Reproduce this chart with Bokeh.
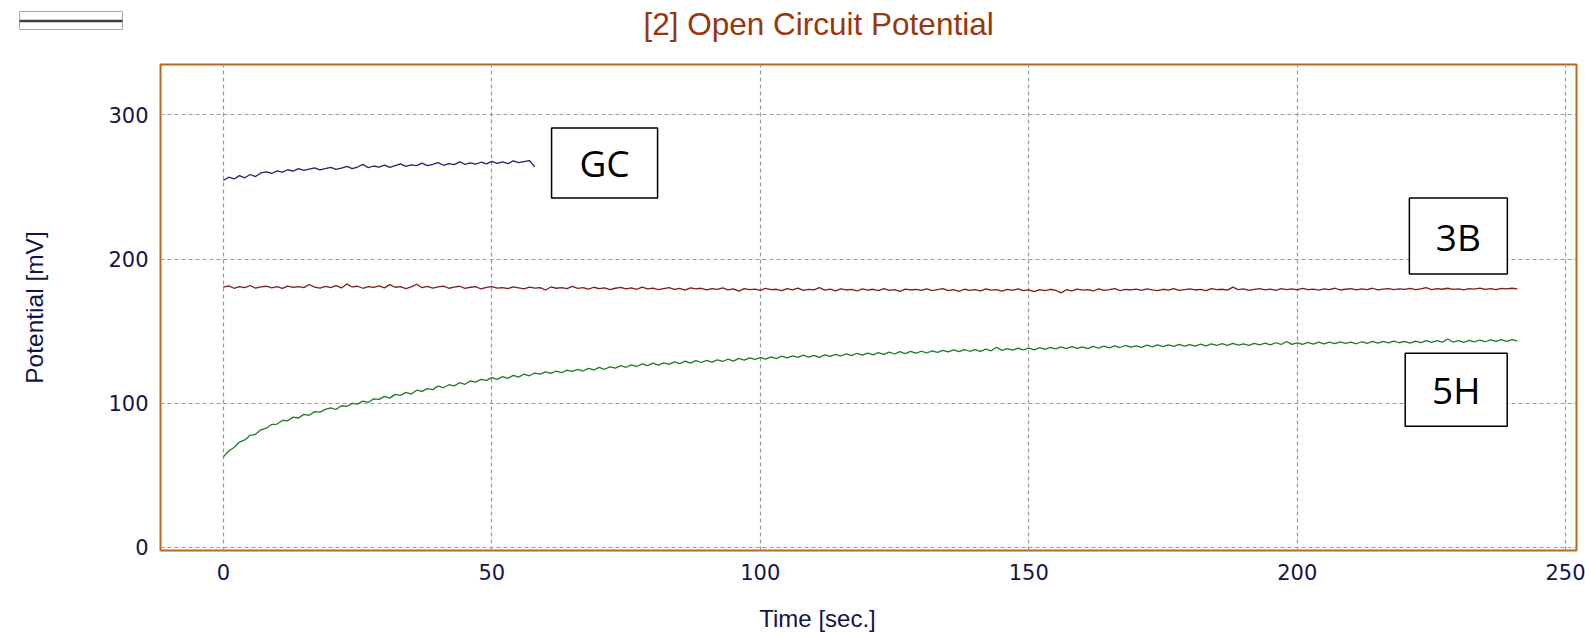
import numpy as np
from bokeh.plotting import figure
from bokeh.layouts import column
from bokeh.models import Range1d, FixedTicker
from bokeh.core.properties import value
from bokeh.embed import file_html
from bokeh.resources import INLINE

# ---------------- data ----------------
time_gc = list(range(0, 59))
gc_mv = [
    254.5, 256.8, 255.6, 257.9, 256.4, 258.7, 257.3, 259.8, 260.6, 259.4,
    261.2, 260.3, 262.0, 261.1, 262.8, 261.5, 262.4, 263.3, 261.9, 262.7,
    263.6, 262.2, 263.1, 264.4, 262.8, 263.9, 265.7, 263.4, 264.6, 263.8,
    265.2, 263.7, 264.9, 266.1, 264.3, 265.4, 264.8, 266.6, 264.9, 265.8,
    266.9, 265.1, 266.3, 265.6, 267.4, 265.8, 266.7, 265.9, 267.2, 266.1,
    267.8, 266.4, 267.5, 266.2, 268.1, 266.9, 267.7, 268.4, 264.0,
]

time_long = list(range(0, 242))
b3_mv = [
    180.6, 181.4, 179.8, 180.9, 180.2, 181.7, 179.9, 180.8, 181.2, 180.1,
    180.9, 179.7, 181.3, 180.4, 181.0, 180.2, 182.4, 180.6, 179.9, 181.1,
    180.3, 181.6, 180.0, 182.8, 180.7, 181.2, 179.8, 180.9, 180.4, 181.5,
    180.1, 182.3, 180.5, 181.0, 179.6, 180.8, 182.6, 180.2, 181.1, 179.9,
    180.7, 181.3, 179.8, 180.6, 181.2, 179.7, 180.5, 180.9, 179.3, 180.4,
    181.0, 179.9, 180.3, 179.6, 180.8, 180.1, 179.4, 180.6, 179.9, 180.2,
    178.6, 180.7, 179.8, 180.3, 179.5, 181.1, 179.7, 180.2, 179.2, 180.5,
    179.6, 180.1, 178.9, 179.8, 180.4, 179.3, 180.0, 179.1, 180.6, 179.4,
    179.9, 178.8, 179.6, 180.2, 179.0, 179.7, 178.5, 180.1, 179.3, 179.8,
    178.7, 179.5, 179.0, 180.0, 178.6, 179.4, 177.8, 179.6, 178.9, 179.2,
    178.4, 179.7, 178.8, 179.1, 178.2, 179.5, 178.6, 179.9, 178.3, 179.0,
    178.7, 180.3, 178.5, 179.2, 178.0, 179.4, 178.6, 179.0, 177.9, 179.3,
    178.5, 179.1, 178.2, 179.6, 178.4, 178.9, 177.7, 179.2, 178.6, 179.0,
    178.3, 179.4, 178.1, 178.8, 179.5, 178.2, 178.9, 177.6, 179.1, 178.4,
    178.8, 178.0, 179.3, 178.5, 178.9, 177.8, 179.0, 178.3, 179.4, 178.1,
    178.7, 177.5, 178.9, 178.2, 179.1, 178.4, 176.6, 178.8, 178.0, 179.2,
    178.5, 178.9, 177.9, 179.3, 178.4, 178.8, 179.5, 178.2, 179.0, 178.6,
    179.2, 178.3, 179.4, 178.7, 178.1, 179.1, 178.5, 179.6, 178.4, 178.9,
    179.3, 178.6, 179.0, 178.2, 179.5, 178.8, 179.1, 178.5, 180.6, 178.9,
    179.4, 178.3, 179.0, 179.6, 178.7, 179.2, 178.4, 179.5, 178.9, 179.3,
    178.6, 179.7, 178.8, 179.2, 178.5, 179.4, 178.9, 179.8, 178.6, 179.1,
    179.5, 178.7, 179.3, 178.9, 179.8, 178.6, 179.2, 179.6, 178.8, 179.4,
    179.0, 179.7, 178.9, 179.3, 180.2, 178.8, 179.5, 179.1, 179.8, 179.0,
    179.4, 178.7, 179.6, 179.2, 179.9, 179.0, 179.5, 178.8, 179.7, 179.3,
    179.8, 179.4,
]
h5_mv = [
    62.8, 66.9, 69.4, 73.1, 74.6, 77.8, 78.5, 81.6, 82.7, 85.3,
    85.6, 88.1, 87.9, 90.4, 89.8, 92.3, 91.7, 94.2, 93.9, 95.8,
    96.9, 95.7, 98.3, 97.8, 99.9, 99.4, 101.5, 100.6, 103.1, 102.7,
    104.8, 103.6, 106.2, 105.5, 107.6, 106.4, 109.1, 108.3, 110.2, 109.5,
    111.9, 110.8, 112.9, 112.1, 114.3, 113.2, 115.5, 114.7, 116.6, 115.9,
    117.8, 116.6, 118.5, 117.3, 119.4, 118.2, 120.3, 119.1, 121.0, 120.2,
    121.8, 120.7, 122.4, 121.2, 123.0, 122.1, 123.6, 122.4, 124.2, 123.1,
    124.9, 123.6, 125.3, 124.4, 126.1, 125.0, 126.7, 125.5, 127.3, 126.2,
    127.8, 126.5, 128.1, 127.0, 128.7, 127.5, 129.2, 127.9, 129.6, 128.3,
    129.8, 128.6, 130.1, 129.0, 130.6, 129.3, 131.2, 129.9, 131.5, 130.4,
    131.7, 130.6, 132.2, 131.0, 132.8, 131.5, 132.9, 131.8, 133.4, 132.1,
    133.2, 131.9, 133.6, 132.5, 134.0, 132.8, 134.3, 133.1, 134.7, 133.4,
    134.8, 133.6, 135.1, 134.0, 135.5, 134.2, 135.8, 134.5, 136.0, 134.8,
    136.1, 134.9, 136.4, 135.3, 136.7, 135.6, 137.0, 135.8, 137.3, 136.1,
    137.2, 136.0, 137.6, 136.4, 138.9, 136.7, 137.9, 136.9, 138.2, 137.1,
    138.3, 137.0, 138.6, 137.4, 138.8, 137.7, 139.1, 137.9, 139.3, 138.1,
    139.2, 137.9, 139.5, 138.3, 139.7, 138.5, 139.9, 138.7, 140.1, 138.9,
    139.9, 138.8, 140.3, 139.1, 140.5, 139.3, 140.6, 139.5, 140.8, 139.6,
    140.7, 139.6, 141.0, 139.9, 141.2, 140.1, 141.4, 140.2, 141.5, 140.4,
    141.3, 140.2, 141.6, 140.5, 141.8, 140.6, 142.0, 140.8, 142.9, 140.9,
    141.9, 140.8, 142.2, 141.1, 142.4, 141.2, 142.5, 141.4, 142.6, 141.5,
    142.4, 141.3, 142.7, 141.6, 142.9, 141.7, 143.0, 141.9, 143.1, 142.0,
    142.9, 141.8, 143.2, 142.1, 143.4, 142.2, 143.5, 142.4, 144.6, 142.5,
    143.4, 142.3, 143.7, 142.6, 143.9, 142.7, 144.0, 142.9, 144.2, 143.0,
    144.1, 143.2,
]

x_ticks = [0, 50, 100, 150, 200, 250]
y_ticks = [0, 100, 200, 300]

series_names = ["GC", "3B", "5H"]
title_text = "[2] Open Circuit Potential"
x_label = "Time [sec.]"
y_label = "Potential [mV]"

# annotation box anchor points (data units)
note_x = [71, 230, 229.6]
note_y = [266.7, 216, 109.4]
note_w = [106, 98, 102]
note_h = [70, 76, 73]

# ---------------- layout ----------------
W = 1585
HEAD_H, TOP_B, FRAME_H, BOT_B, FOOT_H = 63, 1, 486, 42, 41
FL, FR = 160, 1576
X0, X1, Y0, Y1 = -11.7, 252.0, -2.1, 335.0
NAVY = "#14144a"


def blank(height):
    f = figure(width=W, height=height, output_backend="svg", toolbar_location=None,
               x_range=Range1d(0, W), y_range=Range1d(height, 0),
               min_border=0, min_border_left=0, min_border_right=0,
               min_border_top=0, min_border_bottom=0, frame_align=False,
               background_fill_color="white", border_fill_color="white")
    f.axis.visible = False
    f.grid.visible = False
    f.outline_line_color = None
    return f


# header: title + small legend-like box
head = blank(HEAD_H)
head.text([643], [23.3], text=[title_text], text_align="left",
          text_baseline="alphabetic", text_font=value("Liberation Sans"),
          text_font_size="31.5px", text_color="#9a360c")
head.quad(left=[19], right=[122], top=[11], bottom=[29], fill_color="white",
          line_color="#a8a8a8", line_width=1)
head.segment(x0=[19], x1=[122], y0=[20.5], y1=[20.5], line_color="#404040",
             line_width=2.5)

# main plot
p = figure(width=W, height=TOP_B + FRAME_H + BOT_B, output_backend="svg",
           toolbar_location=None, frame_align=False,
           x_range=Range1d(X0, X1), y_range=Range1d(Y0, Y1),
           min_border_left=FL, min_border_right=W - FR, min_border_top=TOP_B,
           min_border_bottom=BOT_B, background_fill_color="white",
           border_fill_color="white")

p.outline_line_color = "#b8681e"
p.outline_line_width = 2

for g, t in ((p.xgrid, x_ticks), (p.ygrid, y_ticks)):
    g.ticker = FixedTicker(ticks=t)
    g.grid_line_color = "#9a9a9a"
    g.grid_line_dash = "4 3"
    g.grid_line_width = 1.2

p.xaxis.ticker = FixedTicker(ticks=x_ticks)
p.yaxis.ticker = FixedTicker(ticks=y_ticks)
for ax in (p.xaxis[0], p.yaxis[0]):
    ax.axis_line_color = None
    ax.major_tick_line_color = None
    ax.minor_tick_line_color = None
    ax.major_label_text_font = "DejaVu Sans"
    ax.major_label_text_font_size = "21px"
    ax.major_label_text_color = NAVY
    ax.axis_label_text_font = "Liberation Sans"
    ax.axis_label_text_font_size = "24.5px"
    ax.axis_label_text_font_style = "normal"
    ax.axis_label_text_color = NAVY

p.yaxis.axis_label = y_label
p.xaxis.major_label_standoff = 7
p.yaxis.major_label_standoff = 6
p.yaxis.axis_label_standoff = 57

p.line(time_gc, gc_mv, line_color="#23236e", line_width=1.3)
p.line(time_long, b3_mv, line_color="#7a1f1f", line_width=1.3)
p.line(time_long, h5_mv, line_color="#1f7a2a", line_width=1.3)

p.rect(note_x, note_y, width=note_w, height=note_h, width_units="screen",
       height_units="screen", fill_color="white", line_color="black",
       line_width=1.5)
p.text(note_x, note_y, text=series_names, text_align="center",
       text_baseline="middle", text_font=value("Open Sans"),
       text_font_size="37px", text_color="black")

# footer: x-axis title (placed left of the frame centre, as in the original)
foot = blank(FOOT_H)
foot.text([817], [26], text=[x_label], text_align="center",
          text_baseline="alphabetic", text_font=value("Liberation Sans"),
          text_font_size="24px", text_color=NAVY)

layout = column(head, p, foot, spacing=0)
open("out.html", "w").write(file_html(layout, INLINE))
